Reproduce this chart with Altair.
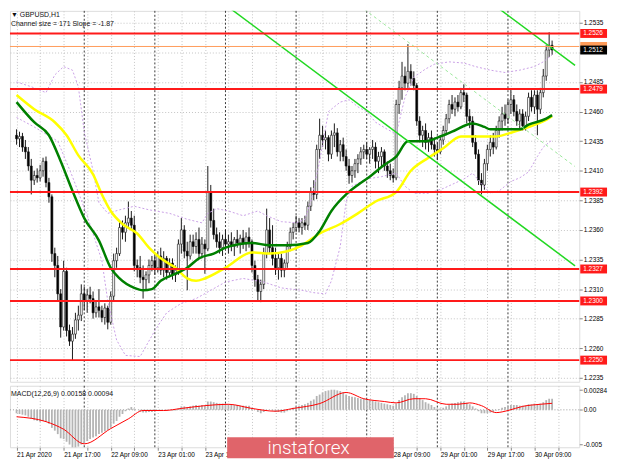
import altair as alt
import pandas as pd

# ---------------- candle data (GBPUSD H1, bar 0 = 21 Apr 01:00) ----------------
opens = [1.2440, 1.2437, 1.2439, 1.2430, 1.2426, 1.2414, 1.2402, 1.2406, 1.2404, 1.2410,
         1.2418, 1.2400, 1.2388, 1.2340, 1.2330, 1.2306, 1.2278, 1.2325, 1.2275, 1.2266,
         1.2272, 1.2284, 1.2288, 1.2306, 1.2300, 1.2305, 1.2302, 1.2290, 1.2295, 1.2292,
         1.2286, 1.2294, 1.2282, 1.2304, 1.2334, 1.2340, 1.2362, 1.2358, 1.2366, 1.2370,
         1.2364, 1.2330, 1.2328, 1.2320, 1.2318, 1.2322, 1.2330, 1.2334, 1.2328, 1.2338,
         1.2326, 1.2336, 1.2324, 1.2332, 1.2322, 1.2326, 1.2348, 1.2360, 1.2342, 1.2338,
         1.2350, 1.2346, 1.2352, 1.2340, 1.2348, 1.2344, 1.2392, 1.2368, 1.2356, 1.2350,
         1.2345, 1.2352, 1.2348, 1.2350, 1.2346, 1.2352, 1.2349, 1.2353, 1.2348, 1.2354,
         1.2350, 1.2330, 1.2318, 1.2308, 1.2314, 1.2340, 1.2360, 1.2345, 1.2336, 1.2328,
         1.2336, 1.2326, 1.2332, 1.2346, 1.2358, 1.2362, 1.2366, 1.2362, 1.2366, 1.2364,
         1.2380, 1.2392, 1.2390, 1.2428, 1.2440, 1.2436, 1.2438, 1.2424, 1.2440, 1.2442,
         1.2426, 1.2432, 1.2422, 1.2414, 1.2406, 1.2410, 1.2416, 1.2420, 1.2426, 1.2428,
         1.2424, 1.2428, 1.2430, 1.2418, 1.2422, 1.2426, 1.2414, 1.2410, 1.2406, 1.2404,
         1.2466, 1.2480, 1.2490, 1.2484, 1.2494, 1.2488, 1.2482, 1.2452, 1.2440, 1.2444,
         1.2434, 1.2438, 1.2432, 1.2428, 1.2426, 1.2436, 1.2444, 1.2454, 1.2466, 1.2462,
         1.2468, 1.2464, 1.2476, 1.2474, 1.2456, 1.2452, 1.2434, 1.2424, 1.2402, 1.2398,
         1.2416, 1.2428, 1.2434, 1.2430, 1.2444, 1.2452, 1.2458, 1.2454, 1.2466, 1.2470,
         1.2460, 1.2452, 1.2458, 1.2448, 1.2456, 1.2472, 1.2464, 1.2474, 1.2462, 1.2476,
         1.2490, 1.2512, 1.2516]
highs = [1.2445, 1.2443, 1.2442, 1.2436, 1.2430, 1.2420, 1.2410, 1.2412, 1.2415, 1.2421,
         1.2422, 1.2404, 1.2390, 1.2345, 1.2338, 1.2310, 1.2334, 1.2328, 1.2280, 1.2278,
         1.2290, 1.2296, 1.2314, 1.2312, 1.2310, 1.2312, 1.2308, 1.2300, 1.2310, 1.2296,
         1.2298, 1.2296, 1.2308, 1.2340, 1.2345, 1.2368, 1.2368, 1.2372, 1.2384, 1.2376,
         1.2372, 1.2335, 1.2338, 1.2330, 1.2325, 1.2335, 1.2338, 1.2340, 1.2342, 1.2345,
         1.2342, 1.2338, 1.2336, 1.2336, 1.2330, 1.2352, 1.2370, 1.2364, 1.2350, 1.2356,
         1.2356, 1.2358, 1.2362, 1.2354, 1.2352, 1.2414, 1.2398, 1.2378, 1.2362, 1.2358,
         1.2356, 1.2360, 1.2356, 1.2358, 1.2354, 1.2360, 1.2356, 1.2360, 1.2358, 1.2362,
         1.2352, 1.2334, 1.2322, 1.2318, 1.2345, 1.2378, 1.2370, 1.2364, 1.2345, 1.2340,
         1.2340, 1.2335, 1.2350, 1.2362, 1.2366, 1.2372, 1.2370, 1.2370, 1.2372, 1.2384,
         1.2396, 1.2402, 1.2432, 1.2454, 1.2448, 1.2444, 1.2440, 1.2444, 1.2450, 1.2446,
         1.2436, 1.2438, 1.2428, 1.2420, 1.2414, 1.2420, 1.2424, 1.2430, 1.2432, 1.2434,
         1.2430, 1.2436, 1.2434, 1.2426, 1.2430, 1.2428, 1.2418, 1.2416, 1.2412, 1.2470,
         1.2486, 1.2502, 1.2498, 1.2517, 1.2500, 1.2494, 1.2484, 1.2456, 1.2448, 1.2450,
         1.2442, 1.2444, 1.2438, 1.2434, 1.2440, 1.2448, 1.2458, 1.2470, 1.2474, 1.2472,
         1.2474, 1.2480, 1.2483, 1.2476, 1.2462, 1.2456, 1.2440, 1.2428, 1.2408, 1.2420,
         1.2432, 1.2440, 1.2442, 1.2448, 1.2456, 1.2464, 1.2466, 1.2470, 1.2479, 1.2474,
         1.2466, 1.2462, 1.2462, 1.2460, 1.2476, 1.2478, 1.2478, 1.2478, 1.2480, 1.2496,
         1.2516, 1.2527, 1.2520]
lows = [1.2432, 1.2430, 1.2426, 1.2420, 1.2410, 1.2390, 1.2398, 1.2400, 1.2401, 1.2405,
        1.2396, 1.2383, 1.2333, 1.2320, 1.2300, 1.2269, 1.2275, 1.2270, 1.2262, 1.2250,
        1.2268, 1.2275, 1.2283, 1.2292, 1.2290, 1.2298, 1.2285, 1.2286, 1.2286, 1.2282,
        1.2280, 1.2276, 1.2280, 1.2300, 1.2328, 1.2338, 1.2352, 1.2350, 1.2362, 1.2360,
        1.2325, 1.2320, 1.2315, 1.2302, 1.2310, 1.2315, 1.2325, 1.2322, 1.2324, 1.2322,
        1.2320, 1.2318, 1.2320, 1.2318, 1.2316, 1.2322, 1.2340, 1.2336, 1.2309, 1.2335,
        1.2340, 1.2340, 1.2336, 1.2336, 1.2323, 1.2342, 1.2362, 1.2352, 1.2345, 1.2340,
        1.2338, 1.2344, 1.2340, 1.2342, 1.2338, 1.2345, 1.2340, 1.2344, 1.2342, 1.2345,
        1.2324, 1.2312, 1.2300, 1.2299, 1.2310, 1.2336, 1.2340, 1.2330, 1.2322, 1.2318,
        1.2320, 1.2320, 1.2328, 1.2342, 1.2352, 1.2358, 1.2358, 1.2356, 1.2360, 1.2360,
        1.2376, 1.2385, 1.2386, 1.2420, 1.2430, 1.2428, 1.2418, 1.2420, 1.2430, 1.2422,
        1.2418, 1.2418, 1.2410, 1.2399, 1.2400, 1.2404, 1.2408, 1.2415, 1.2420, 1.2420,
        1.2416, 1.2420, 1.2412, 1.2408, 1.2414, 1.2410, 1.2404, 1.2402, 1.2400, 1.2402,
        1.2458, 1.2470, 1.2478, 1.2480, 1.2482, 1.2478, 1.2448, 1.2434, 1.2430, 1.2428,
        1.2426, 1.2428, 1.2422, 1.2419, 1.2424, 1.2432, 1.2440, 1.2450, 1.2458, 1.2456,
        1.2460, 1.2462, 1.2468, 1.2450, 1.2446, 1.2430, 1.2420, 1.2398, 1.2390, 1.2394,
        1.2410, 1.2422, 1.2424, 1.2428, 1.2438, 1.2444, 1.2448, 1.2450, 1.2458, 1.2456,
        1.2448, 1.2446, 1.2444, 1.2444, 1.2452, 1.2460, 1.2458, 1.2440, 1.2458, 1.2472,
        1.2486, 1.2506, 1.2508]
closes = [1.2437, 1.2439, 1.2430, 1.2426, 1.2414, 1.2402, 1.2406, 1.2404, 1.2410, 1.2418,
          1.2400, 1.2388, 1.2340, 1.2330, 1.2306, 1.2278, 1.2325, 1.2275, 1.2266, 1.2272,
          1.2284, 1.2288, 1.2306, 1.2300, 1.2305, 1.2302, 1.2290, 1.2295, 1.2292, 1.2286,
          1.2294, 1.2282, 1.2304, 1.2334, 1.2340, 1.2362, 1.2358, 1.2366, 1.2370, 1.2364,
          1.2330, 1.2328, 1.2320, 1.2318, 1.2322, 1.2330, 1.2334, 1.2328, 1.2338, 1.2326,
          1.2336, 1.2324, 1.2332, 1.2322, 1.2326, 1.2348, 1.2360, 1.2342, 1.2338, 1.2350,
          1.2346, 1.2352, 1.2340, 1.2348, 1.2344, 1.2392, 1.2368, 1.2356, 1.2350, 1.2345,
          1.2352, 1.2348, 1.2350, 1.2346, 1.2352, 1.2349, 1.2353, 1.2348, 1.2354, 1.2350,
          1.2330, 1.2318, 1.2308, 1.2314, 1.2340, 1.2360, 1.2345, 1.2336, 1.2328, 1.2336,
          1.2326, 1.2332, 1.2346, 1.2358, 1.2362, 1.2366, 1.2362, 1.2366, 1.2364, 1.2380,
          1.2392, 1.2390, 1.2428, 1.2440, 1.2436, 1.2438, 1.2424, 1.2440, 1.2442, 1.2426,
          1.2432, 1.2422, 1.2414, 1.2406, 1.2410, 1.2416, 1.2420, 1.2426, 1.2428, 1.2424,
          1.2428, 1.2430, 1.2418, 1.2422, 1.2426, 1.2414, 1.2410, 1.2406, 1.2404, 1.2466,
          1.2480, 1.2490, 1.2484, 1.2494, 1.2488, 1.2482, 1.2452, 1.2440, 1.2444, 1.2434,
          1.2438, 1.2432, 1.2428, 1.2426, 1.2436, 1.2444, 1.2454, 1.2466, 1.2462, 1.2468,
          1.2464, 1.2476, 1.2474, 1.2456, 1.2452, 1.2434, 1.2424, 1.2402, 1.2398, 1.2416,
          1.2428, 1.2434, 1.2430, 1.2444, 1.2452, 1.2458, 1.2454, 1.2466, 1.2470, 1.2460,
          1.2452, 1.2458, 1.2448, 1.2456, 1.2472, 1.2464, 1.2474, 1.2462, 1.2476, 1.2490,
          1.2512, 1.2516, 1.2512]

# ---------------- indicators ----------------
ma_yellow_bar = [0, 6, 13, 17, 21, 26, 29, 32, 36, 41, 45, 49, 54, 58, 61, 64, 71, 80, 86, 92,
                 97, 103, 110, 116, 122, 129, 134, 140, 145, 151, 158, 163, 169, 174, 180, 182]
ma_yellow_val = [1.2474, 1.2462, 1.2451, 1.2440, 1.2423, 1.2407, 1.2390, 1.2376, 1.2365, 1.2357,
                 1.2345, 1.2336, 1.2328, 1.2319, 1.2317, 1.2319, 1.2328, 1.2341, 1.2340, 1.2342,
                 1.2347, 1.2357, 1.2365, 1.2374, 1.2384, 1.2392, 1.2410, 1.2421, 1.2429, 1.2439,
                 1.2439, 1.2439, 1.2443, 1.2447, 1.2453, 1.2456]
ma_green_bar = [0, 6, 11, 15, 19, 23, 28, 32, 35, 40, 43, 46, 49, 54, 58, 62, 67, 71, 80, 86,
                92, 99, 103, 107, 112, 116, 120, 125, 129, 133, 139, 144, 148, 155, 159, 161,
                165, 171, 174, 180, 182]
ma_green_val = [1.2468, 1.2451, 1.2440, 1.2418, 1.2393, 1.2370, 1.2351, 1.2328, 1.2319, 1.2311,
                1.2309, 1.2310, 1.2317, 1.2323, 1.2328, 1.2336, 1.2340, 1.2345, 1.2349, 1.2347,
                1.2347, 1.2349, 1.2359, 1.2376, 1.2390, 1.2398, 1.2405, 1.2415, 1.2422, 1.2435,
                1.2435, 1.2439, 1.2443, 1.2450, 1.2447, 1.2445, 1.2445, 1.2445, 1.2449, 1.2454,
                1.2457]
env_up_bar = [0, 5, 10, 13, 16, 19, 21, 23, 26, 28, 31, 35, 40, 45, 52, 58, 63, 65, 68, 72,
              77, 82, 85, 90, 95, 98, 100, 103, 106, 110, 113, 116, 119, 122, 126, 129, 132,
              135, 139, 142, 147, 152, 156, 161, 166, 171, 176, 179, 182]
env_up_val = [1.2485, 1.2481, 1.2476, 1.2491, 1.2498, 1.2495, 1.2481, 1.2443, 1.2410, 1.2383,
              1.2374, 1.2377, 1.2380, 1.2377, 1.2374, 1.2369, 1.2366, 1.2374, 1.2378, 1.2376,
              1.2372, 1.2376, 1.2372, 1.2367, 1.2366, 1.2369, 1.2384, 1.2418, 1.2460, 1.2468,
              1.2470, 1.2464, 1.2460, 1.2451, 1.2445, 1.2441, 1.2472, 1.2489, 1.2496, 1.2500,
              1.2502, 1.2501, 1.2498, 1.2495, 1.2493, 1.2495, 1.2498, 1.2502, 1.2508]
env_lo_bar = [0, 6, 14, 19, 24, 29, 31, 34, 37, 42, 47, 51, 56, 61, 66, 71, 77, 84, 90, 97,
              101, 105, 107, 110, 112, 114, 119, 124, 129, 132, 135, 140, 145, 152, 155, 158,
              161, 164, 168, 171, 174, 177, 179, 182]
env_lo_val = [1.2455, 1.2447, 1.2435, 1.2405, 1.2372, 1.2334, 1.2300, 1.2267, 1.2254, 1.2253,
              1.2275, 1.2290, 1.2298, 1.2302, 1.2309, 1.2316, 1.2319, 1.2316, 1.2311, 1.2309,
              1.2307, 1.2306, 1.2317, 1.2346, 1.2384, 1.2397, 1.2403, 1.2405, 1.2408, 1.2397,
              1.2391, 1.2391, 1.2395, 1.2403, 1.2408, 1.2399, 1.2391, 1.2393, 1.2401, 1.2404,
              1.2409, 1.2422, 1.2430, 1.2436]

# regression channel (two end points each, in bar / price)
chan_lower_bar = [71.45, 189.8]
chan_lower_val = [1.25493, 1.23297]
chan_upper_bar = [162.7, 189.8]
chan_upper_val = [1.25493, 1.24990]
chan_mid_bar = [116.6, 189.8]
chan_mid_val = [1.25493, 1.24135]

levels = [1.2526, 1.2479, 1.2392, 1.2327, 1.2300, 1.2250]
orange_level = 1.2515
last_price = 1.2512
price_ticks = [1.2535, 1.2510, 1.2485, 1.2460, 1.2435, 1.2410, 1.2385, 1.2360,
               1.2335, 1.2310, 1.2285, 1.2260, 1.2235]
hidden_price_tick = 1.2510   # covered by the current-price tag

macd_hist = [-0.0005, -0.0006, -0.0007, -0.0008, -0.0010, -0.0013, -0.0015, -0.0016, -0.0017, -0.0016,
             -0.0017, -0.0020, -0.0026, -0.0030, -0.0035, -0.0041, -0.0042, -0.0046, -0.0050, -0.0054,
             -0.0054, -0.0053, -0.0050, -0.0048, -0.0045, -0.0042, -0.0040, -0.0038, -0.0035, -0.0033,
             -0.0031, -0.0029, -0.0026, -0.0020, -0.0016, -0.0010, -0.0006, -0.0002, 0.0002, 0.0004,
             0.0002, 0.0000, -0.0002, -0.0004, -0.0004, -0.0003, -0.0003, -0.0002, -0.0001, -0.0001,
             0.0000, -0.0001, 0.0000, -0.0001, -0.0001, 0.0002, 0.0005, 0.0005, 0.0004, 0.0005,
             0.0006, 0.0007, 0.0006, 0.0007, 0.0006, 0.0012, 0.0012, 0.0011, 0.0010, 0.0009,
             0.0009, 0.0008, 0.0008, 0.0007, 0.0007, 0.0007, 0.0006, 0.0006, 0.0006, 0.0006,
             0.0003, 0.0000, -0.0003, -0.0005, -0.0003, 0.0000, 0.0000, -0.0001, -0.0003, -0.0003,
             -0.0004, -0.0004, -0.0002, 0.0001, 0.0003, 0.0005, 0.0006, 0.0007, 0.0008, 0.0010,
             0.0013, 0.0015, 0.0020, 0.0022, 0.0025, 0.0027, 0.0028, 0.0029, 0.0029, 0.0028,
             0.0027, 0.0025, 0.0022, 0.0020, 0.0019, 0.0018, 0.0017, 0.0016, 0.0016, 0.0015,
             0.0014, 0.0013, 0.0012, 0.0011, 0.0010, 0.0009, 0.0008, 0.0007, 0.0006, 0.0009,
             0.0014, 0.0018, 0.0021, 0.0024, 0.0024, 0.0023, 0.0020, 0.0017, 0.0014, 0.0011,
             0.0009, 0.0007, 0.0004, 0.0002, 0.0002, 0.0003, 0.0005, 0.0007, 0.0009, 0.0010,
             0.0011, 0.0012, 0.0012, 0.0010, 0.0008, 0.0005, 0.0002, -0.0002, -0.0005, -0.0005,
             -0.0005, -0.0004, -0.0003, -0.0001, 0.0001, 0.0003, 0.0004, 0.0006, 0.0007, 0.0007,
             0.0007, 0.0006, 0.0006, 0.0006, 0.0008, 0.0008, 0.0009, 0.0008, 0.0009, 0.0011,
             0.0014, 0.0016, 0.00158]
signal_bar = [0, 10, 16, 23, 32, 38, 43, 50, 56, 64, 72, 80, 88, 94, 103, 112, 118, 125, 129, 135,
              139, 146, 150, 154, 158, 163, 167, 172, 178, 182]
signal_val = [-0.0010, -0.0017, -0.0028, -0.0049, -0.0027, -0.0013, -0.0001, -0.0001, 0.0002, 0.0006,
              0.0008, 0.0002, -0.0002, 0.0002, 0.0009, 0.0025, 0.0016, 0.0012, 0.0010, 0.0016,
              0.0016, 0.0008, 0.0008, 0.0010, 0.0006, -0.0004, -0.0001, 0.0005, 0.0008, 0.00094]
macd_ticks = [0.00284, 0.0, -0.005]

x_labels = ["21 Apr 2020", "21 Apr 17:00", "22 Apr 09:00", "23 Apr 01:00", "23 Apr 17:00",
            "24 Apr 09:00", "27 Apr 01:00", "27 Apr 17:00", "28 Apr 09:00", "29 Apr 01:00",
            "29 Apr 17:00", "30 Apr 09:00"]
hidden_x_labels = [5, 6, 7]   # covered by the watermark in the reference
day_start_bars = [23, 47, 71, 95, 119, 143, 167]
grid_bars = list(range(0, 190, 8))

# ---------------- layout / style ----------------
W, H1, H2 = 574, 374, 62
FONT = "Liberation Sans"
xs = alt.Scale(domain=[-0.55, 189.55], nice=False, zero=False)
ys = alt.Scale(domain=[1.22317, 1.25451], nice=False, zero=False)
ms = alt.Scale(domain=[-0.00539, 0.00347], nice=False, zero=False)

xaxis_main = alt.Axis(values=grid_bars, labels=False, ticks=False, domain=False, grid=True,
                      gridColor="#c4c4c4", gridDash=[1, 2], title=None)
yaxis_main = alt.Axis(orient="right", values=price_ticks, grid=True,
                      labelExpr="abs(datum.value - %s) < 0.00001 ? '' : format(datum.value, '.4f')" % hidden_price_tick,
                      gridColor="#c4c4c4", gridDash=[1, 2], tickSize=3, labelFontSize=6.5,
                      labelPadding=1, domain=False, title=None)
js_labels = "[" + ",".join("'%s'" % ("" if i in hidden_x_labels else s) for i, s in enumerate(x_labels)) + "]"
xaxis_macd = alt.Axis(values=grid_bars, grid=True, gridColor="#c4c4c4", gridDash=[1, 2],
                      labelExpr="datum.value % 16 == 0 ? " + js_labels + "[datum.value / 16] : ''",
                      labelAlign="left", labelFlush=False, labelOverlap=False, tickSize=3,
                      labelFontSize=6.5, labelPadding=1, domain=False, title=None)
yaxis_macd = alt.Axis(orient="right", values=macd_ticks, grid=False, tickSize=3, labelFontSize=6.5,
                      labelPadding=1, domain=False, title=None,
                      labelExpr="datum.value > 0.001 ? '0.00284' : (datum.value < -0.001 ? '-0.005' : '0.00')")


def X(f):
    return alt.X(f, type="quantitative", scale=xs, axis=xaxis_main)


def Y(f):
    return alt.Y(f, type="quantitative", scale=ys, axis=yaxis_main)


def XM(f):
    return alt.X(f, type="quantitative", scale=xs, axis=xaxis_macd)


def YM(f):
    return alt.Y(f, type="quantitative", scale=ms, axis=yaxis_macd)


cdf = pd.DataFrame({"bar": list(range(len(closes))), "open": opens, "high": highs,
                    "low": lows, "close": closes})
days_df = pd.DataFrame({"bar": day_start_bars})


def line_df(b, v):
    return pd.DataFrame({"bar": b, "val": v})


sep_main = alt.Chart(days_df).mark_rule(color="#3a3a3a", strokeDash=[2, 2], strokeWidth=1).encode(x=X("bar"))
wicks = alt.Chart(cdf).mark_rule(color="#1a1a1a", strokeWidth=1).encode(x=X("bar"), y=Y("low"), y2="high")
bodies = alt.Chart(cdf).mark_bar(width=2, stroke="#111111", strokeWidth=0.6).encode(
    x=X("bar"), y=Y("open"), y2="close",
    fill=alt.condition("datum.close >= datum.open", alt.value("#ffffff"), alt.value("#000000")))

env_up = alt.Chart(line_df(env_up_bar, env_up_val)).mark_line(
    color="#c9a0e6", strokeWidth=1, strokeDash=[2, 2], clip=True).encode(x=X("bar"), y=Y("val"))
env_lo = alt.Chart(line_df(env_lo_bar, env_lo_val)).mark_line(
    color="#c9a0e6", strokeWidth=1, strokeDash=[2, 2], clip=True).encode(x=X("bar"), y=Y("val"))
ma_y = alt.Chart(line_df(ma_yellow_bar, ma_yellow_val)).mark_line(
    color="#ffff00", strokeWidth=2.5, interpolate="monotone", clip=True).encode(x=X("bar"), y=Y("val"))
ma_g = alt.Chart(line_df(ma_green_bar, ma_green_val)).mark_line(
    color="#008000", strokeWidth=2.5, interpolate="monotone", clip=True).encode(x=X("bar"), y=Y("val"))
ch_lo = alt.Chart(line_df(chan_lower_bar, chan_lower_val)).mark_line(
    color="#22d822", strokeWidth=1.5, clip=True).encode(x=X("bar"), y=Y("val"))
ch_up = alt.Chart(line_df(chan_upper_bar, chan_upper_val)).mark_line(
    color="#22d822", strokeWidth=1.5, clip=True).encode(x=X("bar"), y=Y("val"))
ch_mid = alt.Chart(line_df(chan_mid_bar, chan_mid_val)).mark_line(
    color="#9be89b", strokeWidth=1, strokeDash=[3, 3], clip=True).encode(x=X("bar"), y=Y("val"))

lev_df = pd.DataFrame({"level": levels, "label": ["%.4f" % v for v in levels]})
red_lines = alt.Chart(lev_df).mark_rule(color="#ff1a1a", strokeWidth=2).encode(y=Y("level"))
orange_df = pd.DataFrame({"level": [orange_level]})
orange_line = alt.Chart(orange_df).mark_rule(color="#ff9c5a", strokeWidth=1).encode(y=Y("level"))
orange_box = alt.Chart(orange_df).mark_rule(strokeWidth=9, strokeCap="butt", color="#ff9c5a").encode(
    y=Y("level"), x=alt.value(W + 1), x2=alt.value(W + 28))
last_df = pd.DataFrame({"level": [last_price], "label": ["%.4f" % last_price]})


def tag(df, color):
    box = alt.Chart(df).mark_rule(strokeWidth=9, strokeCap="butt", color=color).encode(
        y=Y("level"), x=alt.value(W + 1), x2=alt.value(W + 28))
    txt = alt.Chart(df).mark_text(align="left", baseline="middle", color="white", fontSize=6.5,
                                  font=FONT).encode(y=Y("level"), x=alt.value(W + 4), text="label:N")
    return box + txt


header1 = alt.Chart(pd.DataFrame({"t": ["\u25bc  GBPUSD,H1"]})).mark_text(
    align="left", baseline="middle", fontSize=7, font=FONT, color="#111").encode(
    x=alt.value(1), y=alt.value(4), text="t:N")
header2 = alt.Chart(pd.DataFrame({"t": ["Channel size = 171 Slope = -1.87"]})).mark_text(
    align="left", baseline="middle", fontSize=7, font=FONT, color="#111").encode(
    x=alt.value(1), y=alt.value(13), text="t:N")

main = alt.layer(
    sep_main, wicks, bodies, env_up, env_lo, ma_y, ma_g, ch_mid, ch_lo, ch_up,
    red_lines, orange_line,
    tag(lev_df, "#ff1a1a"), orange_box, tag(last_df, "#000000"),
    header1, header2,
).properties(width=W, height=H1)

# ---------------- MACD panel ----------------
hdf = pd.DataFrame({"bar": list(range(len(macd_hist))), "macd": macd_hist,
                    "base": [0.0] * len(macd_hist)})
sdf = pd.DataFrame({"bar": signal_bar, "macd": signal_val})
sep_macd = alt.Chart(days_df).mark_rule(color="#3a3a3a", strokeDash=[2, 2], strokeWidth=1).encode(x=XM("bar"))
zero_line = alt.Chart(pd.DataFrame({"macd": [0.0]})).mark_rule(
    color="#9a9a9a", strokeDash=[1, 2]).encode(y=YM("macd"))
hist = alt.Chart(hdf).mark_bar(width=1.8, color="#b4b4b4").encode(
    x=XM("bar"), y=YM("macd"), y2="base")
sig = alt.Chart(sdf).mark_line(color="#ff0000", strokeWidth=1, interpolate="monotone").encode(
    x=XM("bar"), y=YM("macd"))
macd_txt = alt.Chart(pd.DataFrame({"t": ["MACD(12,26,9) 0.00158 0.00094"]})).mark_text(
    align="left", baseline="middle", fontSize=7, font=FONT, color="#111").encode(
    x=alt.value(1), y=alt.value(8), text="t:N")
wm_rect = alt.Chart(pd.DataFrame({"a": [0]})).mark_rect(color="#e0646a").encode(
    x=alt.value(219), x2=alt.value(387), y=alt.value(52), y2=alt.value(73))
wm_text = alt.Chart(pd.DataFrame({"t": ["instaforex"]})).mark_text(
    align="center", baseline="middle", fontSize=19, font="Roboto", fontWeight=300,
    color="white").encode(x=alt.value(301), y=alt.value(63), text="t:N")

macd = alt.layer(sep_macd, zero_line, hist, sig, macd_txt, wm_rect, wm_text).properties(width=W, height=H2)

chart = alt.vconcat(main, macd, spacing=2).properties(
    padding={"left": 0, "top": 0, "right": 0, "bottom": 0}
).configure_view(stroke="#4a4a4a", strokeWidth=1).configure_axis(
    labelFont=FONT, labelColor="#111", tickColor="#4a4a4a"
).configure(background="white")

chart.save("out.html", embed_options={"renderer": "svg", "actions": False})
